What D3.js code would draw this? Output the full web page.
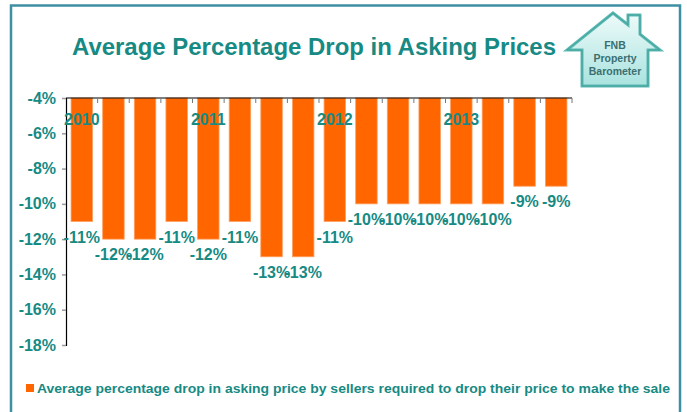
<!DOCTYPE html>
<html><head><meta charset="utf-8">
<script src="https://cdn.jsdelivr.net/npm/d3@7"></script>
<style>body{margin:0;background:#fff}svg{display:block;font-family:"Liberation Sans",Arial,sans-serif}</style>
</head><body><svg id="c" width="687" height="412"></svg>
<script>
const categories = ["2010 Q1","2010 Q2","2010 Q3","2010 Q4","2011 Q1","2011 Q2","2011 Q3","2011 Q4","2012 Q1","2012 Q2","2012 Q3","2012 Q4","2013 Q1","2013 Q2","2013 Q3","2013 Q4"];
const values = [-11,-12,-12,-11,-12,-11,-13,-13,-11,-10,-10,-10,-10,-10,-9,-9];
const yearLabels = ["2010","","","","2011","","","","2012","","","","2013","","",""];
const yTicks = [-4,-6,-8,-10,-12,-14,-16,-18];
const title = "Average Percentage Drop in Asking Prices";
const legendText = "Average percentage drop in asking price by sellers required to drop their price to make the sale";
const logoLines = ["FNB","Property","Barometer"];

const teal = "#178a84", orange = "#ff6600";
const svg = d3.select("#c");

// frame
svg.append("rect").attr("x",11).attr("y",5.5).attr("width",669).attr("height",420)
  .attr("fill","none").attr("stroke","#3f8fa3").attr("stroke-width",2.5);

// title
svg.append("text").attr("x",72).attr("y",55).attr("font-size",24).attr("font-weight","bold")
  .attr("fill",teal).attr("textLength",484).attr("lengthAdjust","spacingAndGlyphs").text(title);

// logo
const defs = svg.append("defs");
const g = defs.append("linearGradient").attr("id","hg").attr("x1",0).attr("y1",0).attr("x2",0).attr("y2",1);
g.append("stop").attr("offset","0%").attr("stop-color","#eefbfa");
g.append("stop").attr("offset","100%").attr("stop-color","#a9e3df");
const housePts = [[613,13],[628,24.8],[628,15],[640,15],[640,34.3],[660,50],[648,50],[648,86],[582,86],[582,50],[567,50]];
svg.append("path").attr("d", d3.line()(housePts)+"Z").attr("fill","url(#hg)")
  .attr("stroke","#5cbab3").attr("stroke-width",3).attr("stroke-linejoin","miter");
svg.append("path").attr("d", d3.line()(housePts)+"Z").attr("fill","none")
  .attr("stroke","#3a9c96").attr("stroke-width",0.8);
svg.selectAll("text.logo").data(logoLines).join("text").attr("class","logo")
  .attr("x",615).attr("y",(d,i)=>49+i*13).attr("text-anchor","middle")
  .attr("font-size",10.5).attr("font-weight","bold").attr("fill","#3b6f70").text(d=>d);

// scales
const x = d3.scaleBand().domain(categories).range([66,572]).paddingInner(0.32).paddingOuter(0.16);
const y = d3.scaleLinear().domain([-4,-18]).range([98,345]);

// bars
svg.selectAll("rect.bar").data(values).join("rect").attr("class","bar")
  .attr("x",(d,i)=>x(categories[i])).attr("width",x.bandwidth())
  .attr("y",y(-4)).attr("height",d=>y(d)-y(-4))
  .attr("fill",orange).attr("stroke","#ffa060").attr("stroke-width",0.8);

// axes
const yAxis = d3.axisLeft(y).tickValues(yTicks).tickFormat(d=>d+"%").tickSize(4).tickPadding(6);
const ya = svg.append("g").attr("transform","translate(66,0)").call(yAxis);
ya.select(".domain").attr("stroke","#000").attr("stroke-width",1.2);
ya.selectAll(".tick line").attr("stroke","#999").attr("stroke-width",1.5);
ya.selectAll(".tick text").attr("fill",teal).attr("font-size",16).attr("font-weight","bold")
  .attr("font-family","Liberation Sans, Arial, sans-serif");

// top axis line with ticks at band boundaries
const step = x.step();
const bounds = categories.map(c=>x(c)-(step-x.bandwidth())/2).concat([572]);
svg.append("line").attr("x1",66).attr("x2",572).attr("y1",98).attr("y2",98).attr("stroke","#000").attr("stroke-width",1.2);
svg.selectAll("line.tk").data(bounds.slice(1)).join("line").attr("class","tk")
  .attr("x1",d=>d).attr("x2",d=>d).attr("y1",98).attr("y2",103).attr("stroke","#777").attr("stroke-width",1);

// year labels
svg.selectAll("text.yr").data(yearLabels).join("text").attr("class","yr")
  .attr("x",(d,i)=>x(categories[i])+x.bandwidth()/2).attr("y",125).attr("text-anchor","middle")
  .attr("font-size",16).attr("font-weight","bold").attr("fill",teal).text(d=>d);

// value labels
svg.selectAll("text.val").data(values).join("text").attr("class","val")
  .attr("x",(d,i)=>x(categories[i])+x.bandwidth()/2).attr("y",d=>y(d)+21).attr("text-anchor","middle")
  .attr("font-size",16).attr("font-weight","bold").attr("fill",teal).text(d=>d+"%");

// legend
svg.append("rect").attr("x",26).attr("y",384).attr("width",8).attr("height",8).attr("fill",orange);
svg.append("text").attr("x",37).attr("y",392.5).attr("font-size",13.5).attr("font-weight","bold")
  .attr("fill",teal).attr("textLength",633).attr("lengthAdjust","spacingAndGlyphs").text(legendText);
</script></body></html>
